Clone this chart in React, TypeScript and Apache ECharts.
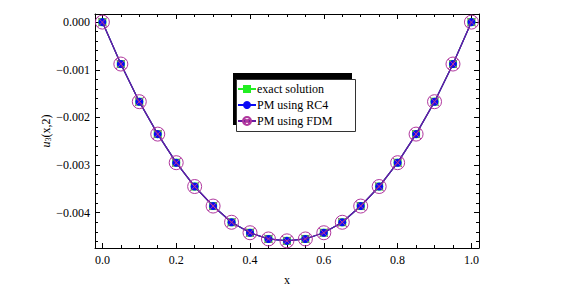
import React, { useEffect, useRef } from "react";
import * as echarts from "echarts";

const xs = [0, 0.05, 0.1, 0.15, 0.2, 0.25, 0.3, 0.35, 0.4, 0.45, 0.5, 0.55, 0.6, 0.65, 0.7, 0.75, 0.8, 0.85, 0.9, 0.95, 1.0];
const exactSolution = [0, -0.00088, -0.00167, -0.00235, -0.00295, -0.00345, -0.00386, -0.0042, -0.00442, -0.00455, -0.00459, -0.00455, -0.00442, -0.0042, -0.00386, -0.00345, -0.00295, -0.00235, -0.00167, -0.00088, 0];
const pmRC4 = [0, -0.00088, -0.00167, -0.00235, -0.00295, -0.00345, -0.00386, -0.0042, -0.00442, -0.00455, -0.00459, -0.00455, -0.00442, -0.0042, -0.00386, -0.00345, -0.00295, -0.00235, -0.00167, -0.00088, 0];
const pmFDM = [0, -0.00088, -0.00167, -0.00235, -0.00295, -0.00345, -0.00386, -0.0042, -0.00442, -0.00455, -0.00459, -0.00455, -0.00442, -0.0042, -0.00386, -0.00345, -0.00295, -0.00235, -0.00167, -0.00088, 0];

const xMajorTicks = [0, 0.2, 0.4, 0.6, 0.8, 1.0];
const xMinorTicks = [0.05, 0.1, 0.15, 0.25, 0.3, 0.35, 0.45, 0.5, 0.55, 0.65, 0.7, 0.75, 0.85, 0.9, 0.95];
const yMajorTicks = [0, -0.001, -0.002, -0.003, -0.004];
const yMinorTicks = [-0.0002, -0.0004, -0.0006, -0.0008, -0.0012, -0.0014, -0.0016, -0.0018, -0.0022, -0.0024, -0.0026, -0.0028, -0.0032, -0.0034, -0.0036, -0.0038, -0.0042, -0.0044, -0.0046];

const seriesNames = ["exact solution", "PM using RC4", "PM using FDM"];

const X_MIN = -0.02;
const X_MAX = 1.0205;
const Y_MIN = -0.00474;
const Y_MAX = 0.00017;

const FONT = "Liberation Serif";
const circleX =
  "path://M0,10 A10,10 0 1,1 20,10 A10,10 0 1,1 0,10 Z M2.93,2.93 L17.07,17.07 M17.07,2.93 L2.93,17.07";

function fmtY(v: number) {
  if (Math.abs(v) < 1e-12) return "0.000";
  return (v < 0 ? "\u2212" : "") + Math.abs(v).toFixed(3);
}

export default function App() {
  const ref = useRef<HTMLDivElement>(null);
  useEffect(() => {
    if (!ref.current) return;
    const chart = echarts.init(ref.current, undefined, { renderer: "svg" });
    const lineStyle = { color: "#000", width: 1 };
    const baseX = (extra: any) => ({
      type: "value",
      min: X_MIN,
      max: X_MAX,
      splitLine: { show: false },
      ...extra,
    });
    const baseY = (extra: any) => ({
      type: "value",
      min: Y_MIN,
      max: Y_MAX,
      splitLine: { show: false },
      ...extra,
    });
    const toPairs = (vals: number[]) => xs.map((x, i) => [x, vals[i]]);

    chart.setOption({
      animation: false,
      backgroundColor: "#fff",
      grid: { left: 95, right: 105, top: 14, bottom: 39, containLabel: false },
      xAxis: [
        baseX({
          position: "bottom",
          name: "x",
          nameLocation: "middle",
          nameGap: 26,
          nameMoveOverlap: false,
          nameTextStyle: { fontFamily: FONT, fontSize: 12, color: "#000" },
          axisLine: { show: true, onZero: false, lineStyle },
          axisTick: { show: true, inside: true, length: 5, customValues: xMajorTicks, lineStyle },
          axisLabel: {
            show: true,
            customValues: xMajorTicks,
            margin: 6,
            fontFamily: FONT,
            fontSize: 12,
            color: "#000",
            formatter: (v: number) => v.toFixed(1),
          },
        }),
        baseX({
          position: "bottom",
          axisLine: { show: false, onZero: false },
          axisTick: { show: true, inside: true, length: 3, customValues: xMinorTicks, lineStyle },
          axisLabel: { show: false },
        }),
        baseX({
          position: "top",
          axisLine: { show: true, onZero: false, lineStyle },
          axisTick: { show: true, inside: true, length: 5, customValues: xMajorTicks, lineStyle },
          axisLabel: { show: false },
        }),
        baseX({
          position: "top",
          axisLine: { show: false, onZero: false },
          axisTick: { show: true, inside: true, length: 3, customValues: xMinorTicks, lineStyle },
          axisLabel: { show: false },
        }),
      ],
      yAxis: [
        baseY({
          position: "left",
          name: "{u|u}{s|3}{n|(x,2)}",
          nameLocation: "middle",
          nameRotate: 90,
          nameGap: 43,
          nameMoveOverlap: false,
          nameTextStyle: {
            fontFamily: FONT,
            fontSize: 12,
            color: "#000",
            rich: {
              u: { fontFamily: FONT, fontSize: 12, fontStyle: "italic", color: "#000" },
              s: { fontFamily: FONT, fontSize: 8, color: "#000", verticalAlign: "bottom", padding: [4, 0, 0, 0] },
              n: { fontFamily: FONT, fontSize: 12, color: "#000" },
            },
          },
          axisLine: { show: true, onZero: false, lineStyle },
          axisTick: { show: true, inside: true, length: 5, customValues: yMajorTicks, lineStyle },
          axisLabel: {
            show: true,
            customValues: yMajorTicks,
            margin: 5,
            fontFamily: FONT,
            fontSize: 12,
            color: "#000",
            formatter: fmtY,
          },
        }),
        baseY({
          position: "left",
          axisLine: { show: false, onZero: false },
          axisTick: { show: true, inside: true, length: 3, customValues: yMinorTicks, lineStyle },
          axisLabel: { show: false },
        }),
        baseY({
          position: "right",
          axisLine: { show: true, onZero: false, lineStyle },
          axisTick: { show: true, inside: true, length: 5, customValues: yMajorTicks, lineStyle },
          axisLabel: { show: false },
        }),
        baseY({
          position: "right",
          axisLine: { show: false, onZero: false },
          axisTick: { show: true, inside: true, length: 3, customValues: yMinorTicks, lineStyle },
          axisLabel: { show: false },
        }),
      ],
      graphic: [
        {
          type: "rect",
          left: 233,
          top: 73,
          shape: { width: 119, height: 52 },
          style: { fill: "#000" },
          z: 1,
        },
        {
          type: "rect",
          left: 236,
          top: 79,
          shape: { width: 119, height: 52 },
          style: { fill: "#fff", stroke: "#333", lineWidth: 1 },
          z: 2,
        },
      ],
      legend: {
        data: seriesNames,
        orient: "vertical",
        left: 237,
        top: 83,
        itemGap: 4,
        itemWidth: 18,
        itemHeight: 10,
        padding: 0,
        z: 10,
        textStyle: { fontFamily: FONT, fontSize: 12, color: "#000", padding: [0, 0, 0, -4] },
      },
      series: [
        {
          name: seriesNames[0],
          type: "line",
          data: toPairs(exactSolution),
          symbol: "rect",
          symbolSize: 8,
          itemStyle: { color: "#22ee22" },
          lineStyle: { color: "#22ee22", width: 1.2 },
          z: 2,
        },
        {
          name: seriesNames[1],
          type: "line",
          data: toPairs(pmRC4),
          symbol: "circle",
          symbolSize: 8,
          itemStyle: { color: "#0a0af5" },
          lineStyle: { color: "#0a0af5", width: 1.2 },
          z: 3,
        },
        {
          name: seriesNames[2],
          type: "line",
          data: toPairs(pmFDM),
          symbol: circleX,
          symbolSize: 14,
          itemStyle: { color: "rgba(0,0,0,0)", borderColor: "#b0389e", borderWidth: 1 },
          lineStyle: { color: "#6a1aa0", width: 1.3 },
          z: 4,
        },
      ],
    });
    return () => chart.dispose();
  }, []);
  return <div ref={ref} style={{ width: 584, height: 291, position: "absolute", left: 0, top: 0 }} />;
}
